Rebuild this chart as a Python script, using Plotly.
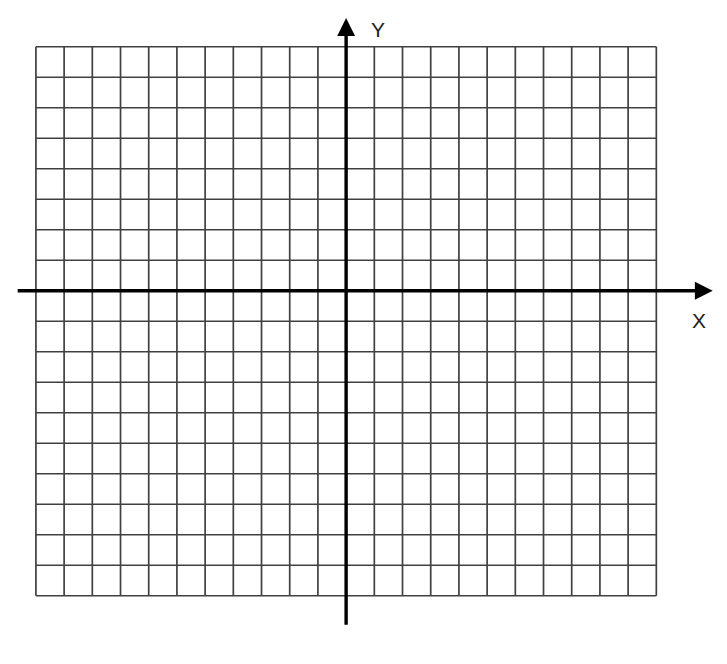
import plotly.graph_objects as go

# Grid extents (in cell units)
grid_x = list(range(-11, 12))   # vertical grid lines
grid_y = list(range(-10, 9))    # horizontal grid lines

# Axis extents (tail, tip)
x_axis_span = [-11.7, 13.0]
y_axis_span = [-11.0, 8.94]

axis_labels = ["X", "Y"]
label_pos = [(12.52, -0.96), (1.13, 8.58)]

GRID_COLOR = "#404040"

xs, ys = [], []
for gx in grid_x:
    xs += [gx, gx, None]
    ys += [grid_y[0], grid_y[-1], None]
for gy in grid_y:
    xs += [grid_x[0], grid_x[-1], None]
    ys += [gy, gy, None]

fig = go.Figure()
fig.add_trace(go.Scatter(x=xs, y=ys, mode="lines",
                         line=dict(color=GRID_COLOR, width=1.7),
                         hoverinfo="skip", showlegend=False))

# axes with arrowheads
fig.add_annotation(x=x_axis_span[1], y=0, ax=x_axis_span[0], ay=0,
                   xref="x", yref="y", axref="x", ayref="y",
                   text="", showarrow=True, arrowhead=2, arrowsize=1.05,
                   arrowwidth=3.4, arrowcolor="black")
fig.add_annotation(x=0, y=y_axis_span[1], ax=0, ay=y_axis_span[0],
                   xref="x", yref="y", axref="x", ayref="y",
                   text="", showarrow=True, arrowhead=2, arrowsize=1.05,
                   arrowwidth=3.4, arrowcolor="black")

for lab, (lx, ly) in zip(axis_labels, label_pos):
    fig.add_annotation(x=lx, y=ly, xref="x", yref="y", text=lab,
                       showarrow=False,
                       font=dict(family="Liberation Sans, Arial", size=21, color="#222"))

fig.update_xaxes(range=[-11.99, 13.79], visible=False, fixedrange=True)
fig.update_yaxes(range=[-12.50, 9.27], visible=False, fixedrange=True)
fig.update_layout(width=727, height=664, margin=dict(l=0, r=0, t=0, b=0),
                  plot_bgcolor="white", paper_bgcolor="white")

fig.write_html("out.html")
